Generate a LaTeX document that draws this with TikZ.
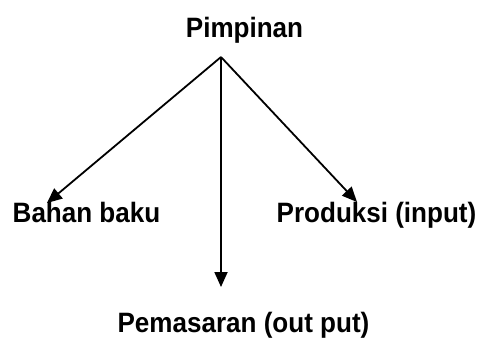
\documentclass[tikz,border=0pt]{standalone}
\usepackage{fontspec}
\setmainfont{Liberation Sans}[FakeStretch=0.93]
\usetikzlibrary{arrows.meta}
\tikzset{
  lbl/.style={inner sep=0pt, anchor=base, font=\fontsize{28}{30}\selectfont\bfseries},
  conn/.style={line width=1.8pt, -{Triangle[length=15pt,width=13pt]}}
}
\begin{document}
\begin{tikzpicture}[x=1pt,y=-1pt]
\useasboundingbox (0,0) rectangle (480,338);
\node[lbl] (pim) at (244.5,37) {Pimpinan};
\node[lbl] (bah) at (86.5,222) {Bahan baku};
\node[lbl] (pro) at (376.5,222) {Produksi (input)};
\node[lbl] (pem) at (243.5,332) {Pemasaran (out put)};
\coordinate (apex) at (221,57);
\coordinate (tb) at (47,203);
\coordinate (tp) at (357,202);
\coordinate (tm) at (221,287);
\draw[conn] (apex) -- (tb);
\draw[conn] (apex) -- (tp);
\draw[conn] (apex) -- (tm);
\end{tikzpicture}
\end{document}
